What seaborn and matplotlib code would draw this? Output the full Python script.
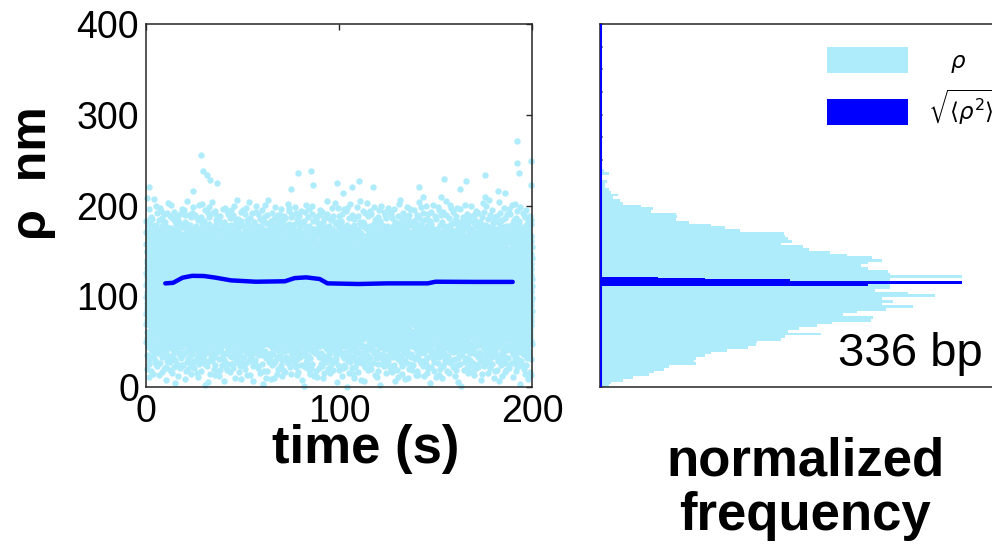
import numpy as np
import pandas as pd
import matplotlib
matplotlib.use("Agg")
import matplotlib.pyplot as plt
import seaborn as sns
from matplotlib.patches import Patch

# ---------------- data ----------------
# normalized frequency of rho, 3 nm bins from 0 to 240 nm
rho_bin_edges = list(range(0, 243, 3))
rho_freq = [0.025, 0.03, 0.064, 0.09, 0.135, 0.15, 0.176, 0.19, 0.265, 0.26,
            0.265, 0.29, 0.306, 0.35, 0.41, 0.43, 0.435, 0.50, 0.51, 0.61,
            0.52, 0.55, 0.60, 0.64, 0.75, 0.755, 0.67, 0.71, 0.79, 0.865,
            0.78, 0.81, 0.78, 0.925, 0.85, 0.76, 0.80, 0.80, 0.82, 0.80,
            1.00, 0.80, 0.796, 0.74, 0.72, 0.74, 0.78, 0.752, 0.683, 0.636,
            0.576, 0.56, 0.50, 0.53, 0.52, 0.51, 0.507, 0.388, 0.345, 0.306,
            0.245, 0.21, 0.212, 0.21, 0.14, 0.146, 0.113, 0.063, 0.055, 0.035,
            0.05, 0.03, 0.024, 0.015, 0.015, 0.018, 0.005, 0.005, 0.024, 0.01]

# histogram of the running sqrt(<rho^2>)
rms_bin_edges = [111.3, 113.9, 116.4, 119.0, 120.4, 121.5]
rms_freq = [0.74, 1.0, 0.526, 0.29, 0.16]

# running sqrt(<rho^2>) versus time
mean_time = [10, 14, 19, 24, 30, 36, 44, 57, 72, 77, 83, 90, 94, 110, 125, 146, 150, 170, 190]
mean_rho = [114.2, 114.8, 120.5, 122.5, 122.3, 120.5, 117.5, 116, 116.5, 120, 120.8, 119,
            114.2, 113.5, 114.2, 114.2, 116, 115.8, 115.8]

# isolated high points of the time trace
outlier_time = [192, 28.3, 192, 199.3, 79, 85.3, 29.4, 31.4, 193.3, 175.6, 154.6, 110.2,
                98.8, 166, 36.6, 33, 1.4, 86.3, 117.8, 106.7, 141.3, 199.3, 162.7, 75,
                24.2, 182.5, 186, 102, 143.4, 152.8, 175.6, 0.3]
outlier_rho = [271.4, 256, 247, 249, 236, 238, 238, 234, 236, 234, 229.5, 227,
               225, 227, 225, 228, 220.7, 223, 220.7, 220.7, 220.7, 223, 217.8, 218.5,
               216.3, 216.3, 214, 214, 209.7, 209.7, 209.7, 208]

n_frames = 7000

# ---------------- derive the trace cloud from the histogram ----------------
def radical_inverse(n, base):
    n = np.asarray(n, dtype=np.int64).copy()
    res = np.zeros(n.shape)
    f = 1.0 / base
    while np.any(n > 0):
        res += f * (n % base)
        n //= base
        f /= base
    return res

edges = np.asarray(rho_bin_edges, dtype=float)
freq = np.asarray(rho_freq, dtype=float)
body = edges[1:] <= 207
cdf = np.concatenate([[0], np.cumsum(freq[body])])
cdf /= cdf[-1]
idx = np.arange(1, n_frames + 1)
cloud_t = 200 * radical_inverse(idx, 2)
cloud_rho = np.interp(radical_inverse(idx, 3), cdf, edges[:len(cdf)])
trace = pd.DataFrame({"t": np.concatenate([cloud_t, outlier_time]),
                      "rho": np.concatenate([cloud_rho, outlier_rho])})
mean_df = pd.DataFrame({"t": mean_time, "rho": mean_rho})
hist_df = pd.DataFrame({"rho": (edges[:-1] + edges[1:]) / 2, "w": rho_freq})
rms_e = np.asarray(rms_bin_edges)
rms_df = pd.DataFrame({"rho": (rms_e[:-1] + rms_e[1:]) / 2, "w": rms_freq})

# ---------------- figure ----------------
light = "#AEEBFB"
dark = "#0000FF"
spine_c = "#262626"

sns.set_theme(style="white")
plt.rcParams["font.family"] = ["Liberation Sans", "DejaVu Sans"]
plt.rcParams["mathtext.fontset"] = "dejavusans"
plt.rcParams["text.color"] = "black"
plt.rcParams["axes.labelcolor"] = "black"

W, H = 992, 548
fig = plt.figure(figsize=(W / 100, H / 100), dpi=100)
ax1 = fig.add_axes([146 / W, (H - 387) / H, 386 / W, 363 / H])
ax2 = fig.add_axes([600 / W, (H - 387) / H, 410 / W, 363 / H])

# left panel: time trace
sns.scatterplot(data=trace, x="t", y="rho", color=light, s=21, linewidth=0,
                ax=ax1, clip_on=False, zorder=1)
sns.lineplot(data=mean_df, x="t", y="rho", color=dark, lw=3.2, ax=ax1, zorder=3)
ax1.set_xlim(0, 200)
ax1.set_ylim(0, 400)
ax1.set_xticks([0, 100, 200])
ax1.set_yticks([0, 100, 200, 300, 400])
ax1.tick_params(direction="in", length=4, width=1, top=True, right=True,
                labelsize=27, pad=5, colors=spine_c, labelcolor="black")
for s in ax1.spines.values():
    s.set_color(spine_c)
    s.set_linewidth(1.1)
    s.set_zorder(4)
ax1.set_xlabel("time (s)", fontsize=38, fontweight="bold", color="black")
ax1.xaxis.set_label_coords((366 - 146) / 386, -0.103)
ax1.set_ylabel("ρ  nm", fontsize=36, fontweight="bold", color="black")
ax1.yaxis.set_label_coords((56 - 146) / 386, 0.59)

# right panel: histograms
sns.histplot(data=hist_df, y="rho", weights="w", bins=rho_bin_edges, color=light,
             alpha=1, linewidth=0, ax=ax2)
sns.histplot(data=rms_df, y="rho", weights="w", bins=rms_bin_edges, color=dark,
             alpha=1, linewidth=0, ax=ax2)
ax2.axvline(0, color=dark, lw=2.2, zorder=5)
ax2.set_xlim(0, 410 / 362)
ax2.set_ylim(0, 400)
ax2.set_xticks([])
ax2.set_yticks(np.arange(0, 401, 25))
ax2.tick_params(axis="y", direction="in", length=2, width=1.2, colors="#7A8A8C",
                labelleft=False, left=True)
ax2.set_ylabel("")
for s in ax2.spines.values():
    s.set_color(spine_c)
    s.set_linewidth(1.1)
ax2.set_xlabel("normalized\nfrequency", fontsize=38, fontweight="bold",
               linespacing=1.12, color="black")
ax2.xaxis.set_label_coords(0.5, -0.135)

handles = [Patch(facecolor=light, edgecolor="none"), Patch(facecolor=dark, edgecolor="none")]
leg = ax2.legend(handles, [r"$\quad\rho$", r"$\sqrt{\langle\rho^2\rangle}$"],
                 loc="upper left", bbox_to_anchor=(827 / W, (H - 47) / H),
                 bbox_transform=fig.transFigure, frameon=False, fontsize=16.5,
                 handlelength=3.54, handleheight=1.35, handletextpad=0.87,
                 labelspacing=0.57, borderpad=0, borderaxespad=0)
for t in leg.get_texts():
    t.set_color("black")

fig.text(838 / W, (H - 366) / H, "336 bp", fontsize=34, va="baseline", ha="left",
         color="black")

fig.savefig("out.png", dpi=100)
